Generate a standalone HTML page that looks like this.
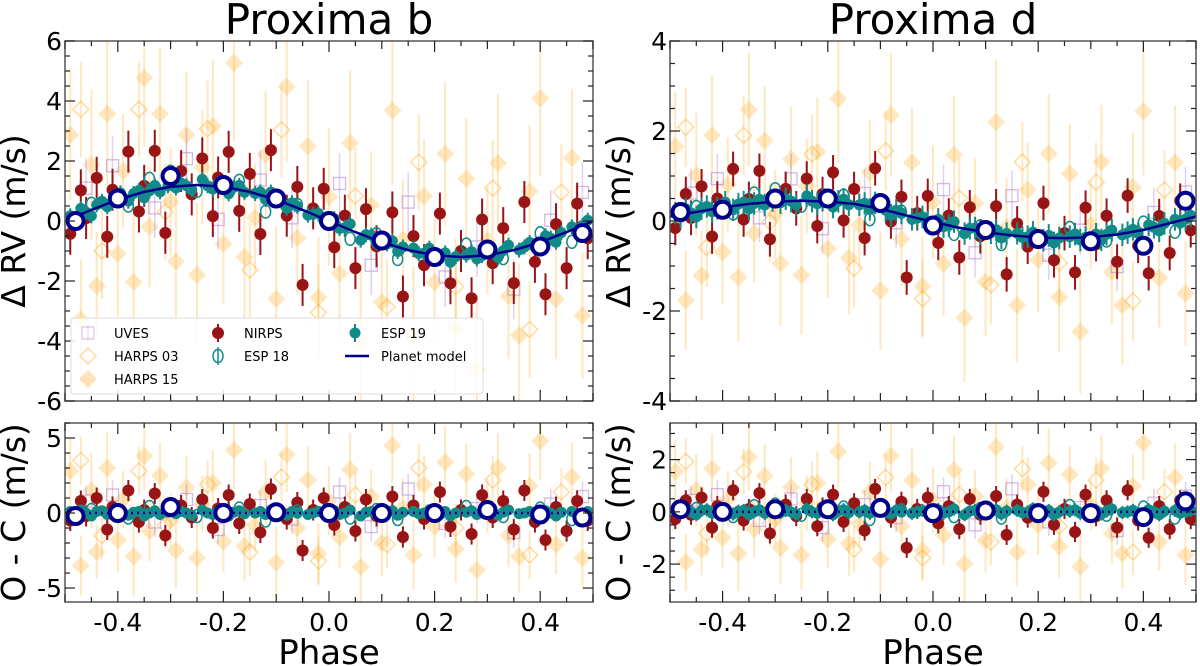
<!DOCTYPE html>
<html><head><meta charset="utf-8">
<style>
body{margin:0;background:#fff;}
svg{display:block;font-family:"DejaVu Sans","Liberation Sans",sans-serif;}
</style></head>
<body>
<svg id="fig" width="1200" height="666" viewBox="0 0 1200 666" xmlns="http://www.w3.org/2000/svg"></svg>
<script>
// ---------- data ----------
const h15Phase=[-0.49,-0.47,-0.45,-0.44,-0.42,-0.40,-0.39,-0.37,-0.35,-0.34,-0.32,-0.30,-0.29,-0.27,-0.25,-0.24,-0.22,-0.20,-0.18,-0.16,-0.14,-0.12,-0.10,-0.08,-0.06,-0.04,-0.02,0.0,0.02,0.04,0.06,0.08,0.10,0.12,0.14,0.16,0.18,0.20,0.22,0.24,0.26,0.28,0.30,0.32,0.34,0.36,0.38,0.40,0.43,0.46,0.48];
const h15Res=[2.8,-3.5,1.5,-2.6,3.0,-1.8,0.9,-2.9,3.8,-1.2,2.5,-0.5,-2.5,1.7,-3.0,0.6,2.0,-1.9,4.2,-2.2,-0.8,1.4,-3.3,3.9,-1.0,2.2,-2.7,0.8,-1.6,2.9,-3.6,1.1,-2.0,4.5,0.3,-2.8,1.9,-0.9,3.4,-2.4,2.6,-3.8,0.5,3.0,-1.5,-2.9,1.8,4.8,-2.1,2.4,-3.0];
const h15Err=[2.2,2.0,2.5,1.8,2.4,2.1,1.9,2.6,2.3,2.0,2.2,1.8,2.5,2.1,2.4,1.9,2.2,2.0,2.6,2.3,1.8,2.1,2.4,2.5,1.9,2.2,2.0,2.3,2.1,2.4,2.6,1.8,2.2,2.5,2.0,2.3,1.9,2.1,2.4,2.2,2.0,2.5,1.8,2.3,2.1,2.4,2.2,2.6,2.0,2.3,2.1];
const h03Phase=[-0.47,-0.43,-0.36,-0.31,-0.23,-0.15,-0.09,-0.02,0.05,0.11,0.17,0.24,0.31,0.38,0.44];
const h03Res=[3.5,-1.5,2.8,-0.8,1.9,-2.6,2.4,-3.2,1.2,-2.1,3.0,-1.0,2.2,-2.8,1.4];
const uvPhase=[-0.46,-0.41,-0.33,-0.27,-0.21,-0.13,-0.07,0.02,0.08,0.15,0.22,0.28,0.35,0.42,0.48];
const uvRes=[0.8,1.2,-0.6,0.9,-1.1,0.5,-0.4,1.4,-0.9,1.6,-0.7,0.3,-1.3,0.6,1.1];
const nirPhase=[-0.49,-0.47,-0.46,-0.44,-0.42,-0.41,-0.38,-0.36,-0.35,-0.33,-0.31,-0.28,-0.26,-0.24,-0.22,-0.21,-0.19,-0.17,-0.15,-0.13,-0.11,-0.08,-0.06,-0.05,-0.03,-0.01,0.01,0.03,0.05,0.07,0.09,0.12,0.14,0.16,0.18,0.21,0.23,0.25,0.27,0.29,0.31,0.33,0.35,0.37,0.39,0.41,0.43,0.45,0.47,0.49];
const nirRes=[-0.5,0.8,-0.2,1.0,-1.1,0.4,1.5,-0.6,0.2,1.3,-1.5,0.5,-0.3,0.9,-1.0,0.3,1.2,-0.7,0.6,-1.3,1.6,-0.4,0.7,-2.5,0.2,1.0,-0.8,0.4,-1.2,0.9,-0.2,1.1,-1.6,0.5,-0.4,1.4,-0.9,0.2,-1.4,1.2,-0.3,0.8,-1.1,1.5,-0.6,-1.8,0.4,-1.2,0.8,-0.5];
const e18Phase=[-0.45,-0.38,-0.34,-0.30,-0.25,-0.17,-0.12,-0.06,0.04,0.09,0.13,0.19,0.26,0.33,0.40,0.46];
const e18Res=[0.2,-0.3,0.4,0.5,-0.2,0.3,-0.5,0.1,-0.3,0.2,-0.4,0.1,0.4,-0.2,0.3,-0.4];
const e19Phase=[-0.49,-0.48,-0.47,-0.46,-0.45,-0.44,-0.43,-0.42,-0.41,-0.395,-0.38,-0.37,-0.36,-0.35,-0.34,-0.33,-0.32,-0.305,-0.29,-0.28,-0.27,-0.26,-0.24,-0.23,-0.22,-0.21,-0.19,-0.18,-0.17,-0.16,-0.14,-0.13,-0.12,-0.11,-0.09,-0.08,-0.07,-0.06,-0.04,-0.03,-0.02,-0.01,0.01,0.02,0.03,0.04,0.06,0.07,0.08,0.09,0.11,0.12,0.13,0.14,0.16,0.17,0.18,0.19,0.21,0.22,0.23,0.24,0.26,0.27,0.28,0.29,0.31,0.32,0.33,0.34,0.36,0.37,0.38,0.39,0.41,0.42,0.43,0.44,0.46,0.47,0.48,0.49];
const e19Res=[0.1,-0.1,0.2,0.0,-0.2,0.1,0.15,-0.1,0.0,0.2,-0.15,0.05,0.1,-0.2,0.0,0.15,-0.1,0.05,-0.05,0.1,0.0,-0.15,0.2,0.0,-0.1,0.1,-0.2,0.05,0.15,-0.05,0.0,0.1,-0.1,0.2,0.0,-0.15,0.1,0.05,-0.1,0.0,0.1,-0.05,0.15,-0.1,0.0,0.2,-0.2,0.05,0.1,-0.1,0.0,0.15,-0.15,0.05,0.1,-0.05,0.0,0.2,-0.1,0.1,-0.2,0.0,0.05,0.15,-0.1,0.0,0.1,-0.15,0.05,0.2,-0.05,0.0,0.1,-0.1,0.15,0.0,-0.2,0.05,0.1,-0.1,0.0,0.1];
const modelPhase=[-0.5,-0.45,-0.4,-0.35,-0.3,-0.25,-0.2,-0.15,-0.1,-0.05,0,0.05,0.1,0.15,0.2,0.25,0.3,0.35,0.4,0.45,0.5];
const modelB=[0,0.37,0.71,0.97,1.14,1.2,1.14,0.97,0.71,0.37,0,-0.37,-0.71,-0.97,-1.14,-1.2,-1.14,-0.97,-0.71,-0.37,0];
const modelD=[0.1,0.2,0.3,0.38,0.43,0.45,0.43,0.38,0.27,0.12,-0.02,-0.15,-0.25,-0.32,-0.37,-0.38,-0.36,-0.3,-0.2,-0.05,0.1];
const binPhase=[-0.48,-0.4,-0.3,-0.2,-0.1,0,0.1,0.2,0.3,0.4,0.48];
const binB=[0,0.75,1.5,1.2,0.75,0,-0.65,-1.2,-0.95,-0.85,-0.4];
const binBRes=[-0.2,0,0.4,0,0.05,0,0,0,0.2,-0.1,-0.3];
const binD=[0.2,0.25,0.5,0.5,0.4,-0.1,-0.2,-0.4,-0.45,-0.55,0.45];
const binDRes=[0.1,0,0.1,0.1,0.15,-0.05,0.05,-0.05,-0.05,-0.2,0.4];
const dScale=0.55;

// ---------- helpers ----------
const NS="http://www.w3.org/2000/svg";
const fig=document.getElementById('fig');
function mk(tag,attrs,parent){const e=document.createElementNS(NS,tag);for(const k in attrs)e.setAttribute(k,attrs[k]);(parent||fig).appendChild(e);return e;}
function interp(xs,ys,x){for(let i=0;i<xs.length-1;i++){if(x<=xs[i+1]){const t=(x-xs[i])/(xs[i+1]-xs[i]);return ys[i]+t*(ys[i+1]-ys[i]);}}return ys[ys.length-1];}

const ORANGE='#ffb02e', PURPLE='#b58ad6', RED='#991414', TEAL='#138a8a', NAVY='#00008b';

function panel(name,x0,x1,y0,y1,ylo,yhi,majors,minorStep,model,isRes,scale,bins,ytitle,xlabels){
  const g=mk('g',{},fig);
  
  
  const X=p=>x0+(p+0.5)/1*(x1-x0);
  const Y=v=>y1-(v-ylo)/(yhi-ylo)*(y1-y0);
  const clipId='clip-'+name;
  const defs=mk('defs',{},g);const cp=mk('clipPath',{id:clipId},defs);mk('rect',{x:x0,y:y0,width:x1-x0,height:y1-y0},cp);
  const dg=mk('g',{'clip-path':`url(#${clipId})`},g);
  
  
  const val=(p,r)=>isRes? r*scale : interp(modelPhase,model,p)+r*scale;
  function diamond(cx,cy,s){return `${cx},${cy-s} ${cx+s},${cy} ${cx},${cy+s} ${cx-s},${cy}`;}
  for(let i=0;i<Math.min(h15Phase.length,h15Res.length);i++){
    const cx=X(h15Phase[i]),v=val(h15Phase[i],h15Res[i]),e=(h15Err[i]||2)*scale;
    mk('line',{x1:cx,x2:cx,y1:Y(v-e),y2:Y(v+e),stroke:ORANGE,'stroke-opacity':0.3,'stroke-width':2},dg);
    const d=mk('polygon',{points:diamond(cx,Y(v),9),fill:ORANGE,'fill-opacity':0.3},dg);
    
    
  }
  for(let i=0;i<Math.min(h03Phase.length,h03Res.length);i++){
    const cx=X(h03Phase[i]),v=val(h03Phase[i],h03Res[i]),e=1.6*scale;
    mk('line',{x1:cx,x2:cx,y1:Y(v-e),y2:Y(v+e),stroke:ORANGE,'stroke-opacity':0.3,'stroke-width':2},dg);
    const d=mk('polygon',{points:diamond(cx,Y(v),8),fill:'none',stroke:ORANGE,'stroke-opacity':0.45,'stroke-width':1.5},dg);
    
    
  }
  for(let i=0;i<Math.min(uvPhase.length,uvRes.length);i++){
    const cx=X(uvPhase[i]),v=val(uvPhase[i],uvRes[i]),e=1.0*scale;
    mk('line',{x1:cx,x2:cx,y1:Y(v-e),y2:Y(v+e),stroke:PURPLE,'stroke-opacity':0.4,'stroke-width':1.5},dg);
    const d=mk('rect',{x:cx-6,y:Y(v)-6,width:12,height:12,fill:'none',stroke:PURPLE,'stroke-opacity':0.6,'stroke-width':1.3},dg);
    
    
  }
  for(let i=0;i<Math.min(nirPhase.length,nirRes.length);i++){
    const cx=X(nirPhase[i]),v=val(nirPhase[i],nirRes[i]),e=0.7*scale;
    mk('line',{x1:cx,x2:cx,y1:Y(v-e),y2:Y(v+e),stroke:RED,'stroke-width':2},dg);
    const d=mk('circle',{cx:cx,cy:Y(v),r:6,fill:RED},dg);
    
    
  }
  for(let i=0;i<Math.min(e18Phase.length,e18Res.length);i++){
    const cx=X(e18Phase[i]),v=val(e18Phase[i],e18Res[i]);
    const d=mk('ellipse',{cx:cx,cy:Y(v),rx:5,ry:6.5,fill:'none',stroke:TEAL,'stroke-width':1.5},dg);
    
    
  }
  for(let i=0;i<Math.min(e19Phase.length,e19Res.length);i++){
    const cx=X(e19Phase[i]),v=val(e19Phase[i],e19Res[i]);
    mk('line',{x1:cx,x2:cx,y1:Y(v-0.25),y2:Y(v+0.25),stroke:TEAL,'stroke-width':2},dg);
    const d=mk('circle',{cx:cx,cy:Y(v),r:5.5,fill:TEAL},dg);
    
    
  }
  if(isRes){
    const l=mk('line',{x1:x0,x2:x1,y1:Y(0),y2:Y(0),stroke:NAVY,'stroke-width':2.5,'stroke-dasharray':'2 4'},dg);
    
    
  } else {
    const pts=modelPhase.map((p,i)=>`${X(p)},${Y(model[i])}`).join(' ');
    const l=mk('polyline',{points:pts,fill:'none',stroke:NAVY,'stroke-width':2.5},dg);
    
    
  }
  for(let i=0;i<binPhase.length;i++){
    const c=mk('circle',{cx:X(binPhase[i]),cy:Y(bins[i]),r:8,fill:'#fff',stroke:NAVY,'stroke-width':4},dg);
    
    
  }
  mk('rect',{x:x0,y:y0,width:x1-x0,height:y1-y0,fill:'none',stroke:'#555','stroke-width':1.5},g);
  for(let k=-10;k<=10;k++){
    const p=k*0.05; if(p<-0.5||p>0.5) continue;
    const L=(k%4===0)?11:(k%2===0?8:5);const cx=X(p);
    mk('line',{x1:cx,x2:cx,y1:y1,y2:y1-L,stroke:'#222','stroke-width':1.2},g);
    mk('line',{x1:cx,x2:cx,y1:y0,y2:y0+L,stroke:'#222','stroke-width':1.2},g);
    if(xlabels&&k%4===0&&Math.abs(p)<0.45){
      const t=mk('text',{x:cx,y:y1+29,'font-size':25,'text-anchor':'middle',fill:'#000'},g);
      t.textContent=p.toFixed(1);
      
      
    }
  }
  for(let v=Math.ceil(ylo/minorStep)*minorStep; v<=yhi+1e-9; v+=minorStep){
    const major=majors.some(m=>Math.abs(m-v)<1e-6);const L=major?10:5;const cy=Y(v);
    mk('line',{x1:x0,x2:x0+L,y1:cy,y2:cy,stroke:'#222','stroke-width':1.2},g);
    mk('line',{x1:x1,x2:x1-L,y1:cy,y2:cy,stroke:'#222','stroke-width':1.2},g);
  }
  majors.forEach(m=>{
    const t=mk('text',{x:x0-3,y:Y(m)+9,'font-size':25,'text-anchor':'end',fill:'#000'},g);
    t.textContent=String(m);
    
    
  });
  const yt=mk('text',{x:0,y:0,'font-size':33,'text-anchor':'middle',fill:'#000',transform:`translate(${x0-40},${(y0+y1)/2}) rotate(-90)`},g);
  yt.textContent=ytitle;
  
  
  if(xlabels){
    const xt=mk('text',{x:(x0+x1)/2,y:y1+62,'font-size':34,'text-anchor':'middle',fill:'#000'},g);
    xt.textContent='Phase';
    
    
  }
}

panel('proxima-b-rv',65,593,41,401,-6,6,[-6,-4,-2,0,2,4,6],0.5,modelB,false,1,binB,'Δ RV (m/s)',false);
panel('proxima-b-residuals',65,593,423,602,-5.93,6,[-5,0,5],1,modelB,true,1,binBRes,'O - C (m/s)',true);
panel('proxima-d-rv',670,1196,41,401,-4,4,[-4,-2,0,2,4],0.5,modelD,false,dScale,binD,'Δ RV (m/s)',false);
panel('proxima-d-residuals',670,1196,423,602,-3.45,3.4,[-2,0,2],0.5,modelD,true,dScale,binDRes,'O - C (m/s)',true);

[['Proxima b',329,'title-proxima-b'],['Proxima d',933,'title-proxima-d']].forEach(a=>{
  const t=mk('text',{x:a[1],y:34,'font-size':42,'text-anchor':'middle',fill:'#000'});
  t.textContent=a[0];
  
  
});

const lg=mk('g',{});


mk('rect',{x:71,y:318,width:412,height:76,rx:3,fill:'#fff','fill-opacity':0.85,stroke:'#ddd'},lg);
function entry(x,y,label,draw){
  const eg=mk('g',{},lg);
  
  
  draw(eg,x,y);
  const t=mk('text',{x:x+26,y:y+5,'font-size':13,fill:'#000'},eg);t.textContent=label;
}
entry(88,333,'UVES',(g,x,y)=>{mk('line',{x1:x,x2:x,y1:y-8,y2:y+8,stroke:PURPLE,'stroke-opacity':0.4},g);mk('rect',{x:x-6,y:y-6,width:12,height:12,fill:'none',stroke:PURPLE,'stroke-opacity':0.6},g);});
entry(88,356,'HARPS 03',(g,x,y)=>{mk('polygon',{points:`${x},${y-8} ${x+8},${y} ${x},${y+8} ${x-8},${y}`,fill:'none',stroke:ORANGE,'stroke-opacity':0.45,'stroke-width':1.5},g);});
entry(88,379,'HARPS 15',(g,x,y)=>{mk('polygon',{points:`${x},${y-9} ${x+9},${y} ${x},${y+9} ${x-9},${y}`,fill:ORANGE,'fill-opacity':0.35},g);});
entry(218,333,'NIRPS',(g,x,y)=>{mk('line',{x1:x,x2:x,y1:y-9,y2:y+9,stroke:RED,'stroke-width':2},g);mk('circle',{cx:x,cy:y,r:6,fill:RED},g);});
entry(218,356,'ESP 18',(g,x,y)=>{mk('line',{x1:x,x2:x,y1:y-9,y2:y+9,stroke:TEAL,'stroke-width':1.5},g);mk('ellipse',{cx:x,cy:y,rx:5,ry:6.5,fill:'none',stroke:TEAL,'stroke-width':1.5},g);});
entry(355,333,'ESP 19',(g,x,y)=>{mk('line',{x1:x,x2:x,y1:y-9,y2:y+9,stroke:TEAL,'stroke-width':2},g);mk('circle',{cx:x,cy:y,r:5.5,fill:TEAL},g);});
entry(355,356,'Planet model',(g,x,y)=>{mk('line',{x1:x-10,x2:x+14,y1:y,y2:y,stroke:NAVY,'stroke-width':2.5},g);});
</script>
</body></html>
